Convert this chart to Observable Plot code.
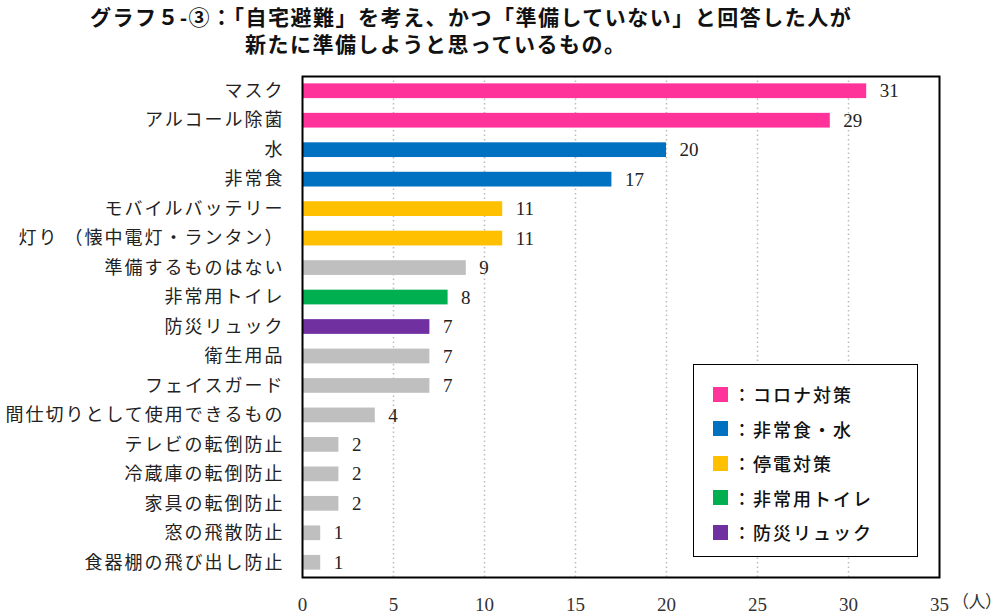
<!DOCTYPE html>
<html><head><meta charset="utf-8">
<script src="https://cdn.jsdelivr.net/npm/d3@7"></script>
<script src="https://cdn.jsdelivr.net/npm/@observablehq/plot@0.6"></script>
<style>
body{margin:0;background:#fff;width:1000px;height:615px;position:relative;overflow:hidden;font-family:"Noto Sans CJK JP",sans-serif;}
#title{height:62px;position:relative;font-weight:bold;font-size:21px;color:#111;letter-spacing:1.5px;font-family:"Liberation Sans","Noto Sans CJK JP",sans-serif;}
#title div{position:absolute;white-space:nowrap;left:90px;line-height:27px;}
#chart svg{display:block;}
#chart svg text.ylab{letter-spacing:2px;}
#legend{position:absolute;left:693px;top:364px;width:225px;height:193px;border:1.5px solid #000;box-sizing:border-box;background:#fff;}
.item{position:absolute;left:19px;height:20px;display:flex;align-items:center;font-size:18px;letter-spacing:2px;color:#111;font-weight:500;}
.sw{width:15px;height:15px;margin-right:5px;}
#unit{position:absolute;right:6px;top:592px;height:18px;line-height:18px;font-size:17px;color:#333;font-family:"Noto Sans CJK JP",sans-serif;font-feature-settings:"palt";white-space:nowrap;text-align:right;}
</style></head>
<body>
<div id="title"><div style="top:4px">グラフ５-③：「自宅避難」を考え、かつ「準備していない」と回答した人が</div><div style="top:31px;left:245px">新たに準備しようと思っているもの。</div></div>
<div id="chart"></div>
<div id="legend"></div>
<div id="unit">（人）</div>
<script>
const categories = ["マスク","アルコール除菌","水","非常食","モバイルバッテリー","灯り（懐中電灯・ランタン）","準備するものはない","非常用トイレ","防災リュック","衛生用品","フェイスガード","間仕切りとして使用できるもの","テレビの転倒防止","冷蔵庫の転倒防止","家具の転倒防止","窓の飛散防止","食器棚の飛び出し防止"];
const values = [31,29,20,17,11,11,9,8,7,7,7,4,2,2,2,1,1];
const groups = ["コロナ対策","コロナ対策","非常食・水","非常食・水","停電対策","停電対策","その他","非常用トイレ","防災リュック","その他","その他","その他","その他","その他","その他","その他","その他"];
const groupNames = ["コロナ対策","非常食・水","停電対策","非常用トイレ","防災リュック","その他"];
const groupColors = ["#FF3399","#0070C0","#FFC000","#00B050","#7030A0","#BFBFBF"];
const legendLabels = ["：コロナ対策","：非常食・水","：停電対策","：非常用トイレ","：防災リュック"];
const xTicks = [0,5,10,15,20,25,30,35];
const gridTicks = [5,10,15,20,25,30];

const data = categories.map((c,i)=>({cat:c,val:values[i],grp:groups[i]}));
const labelMap = {"灯り（懐中電灯・ランタン）":"灯り （懐中電灯・ランタン）"};

const chart = Plot.plot({
  width:1000, height:553,
  marginLeft:302, marginRight:61, marginTop:14, marginBottom:38,
  x:{domain:[0,35], ticks:xTicks},
  y:{domain:categories, paddingInner:0.5, paddingOuter:0.25, round:false},
  color:{domain:groupNames, range:groupColors},
  style:{background:"#fff"},
  marks:[
    Plot.gridX(gridTicks,{stroke:"#bbb",strokeOpacity:1,strokeWidth:1.5,strokeDasharray:"1.5,3"}),
    Plot.barX(data,{y:"cat",x:"val",fill:"grp"}),
    Plot.text(data,{y:"cat",x:"val",text:d=>String(d.val),textAnchor:"start",dx:13,fontSize:19,fontFamily:"Liberation Serif, serif",fill:"#222"}),
    Plot.axisX({ticks:xTicks,tickSize:0,tickPadding:20,fontSize:19,fontFamily:"Liberation Serif, serif",fill:"#333",label:null}),
    Plot.axisY({tickSize:0,tickPadding:18,fontSize:18,fill:"#222",label:null,tickFormat:d=>labelMap[d]||d,fontFamily:"Noto Sans CJK JP, sans-serif"}),
    Plot.frame({stroke:"#000",strokeWidth:2})
  ]
});
document.getElementById("chart").appendChild(chart);
chart.querySelectorAll("g[aria-label='y-axis tick label'] text").forEach(t=>t.setAttribute("class","ylab"));

const lg = document.getElementById("legend");
legendLabels.forEach((l,i)=>{
  const d=document.createElement("div");d.className="item";d.style.top=(19+i*34.5)+"px";
  d.innerHTML=`<span class="sw" style="background:${groupColors[i]}"></span><span>${l}</span>`;
  lg.appendChild(d);
});
</script>
</body></html>
